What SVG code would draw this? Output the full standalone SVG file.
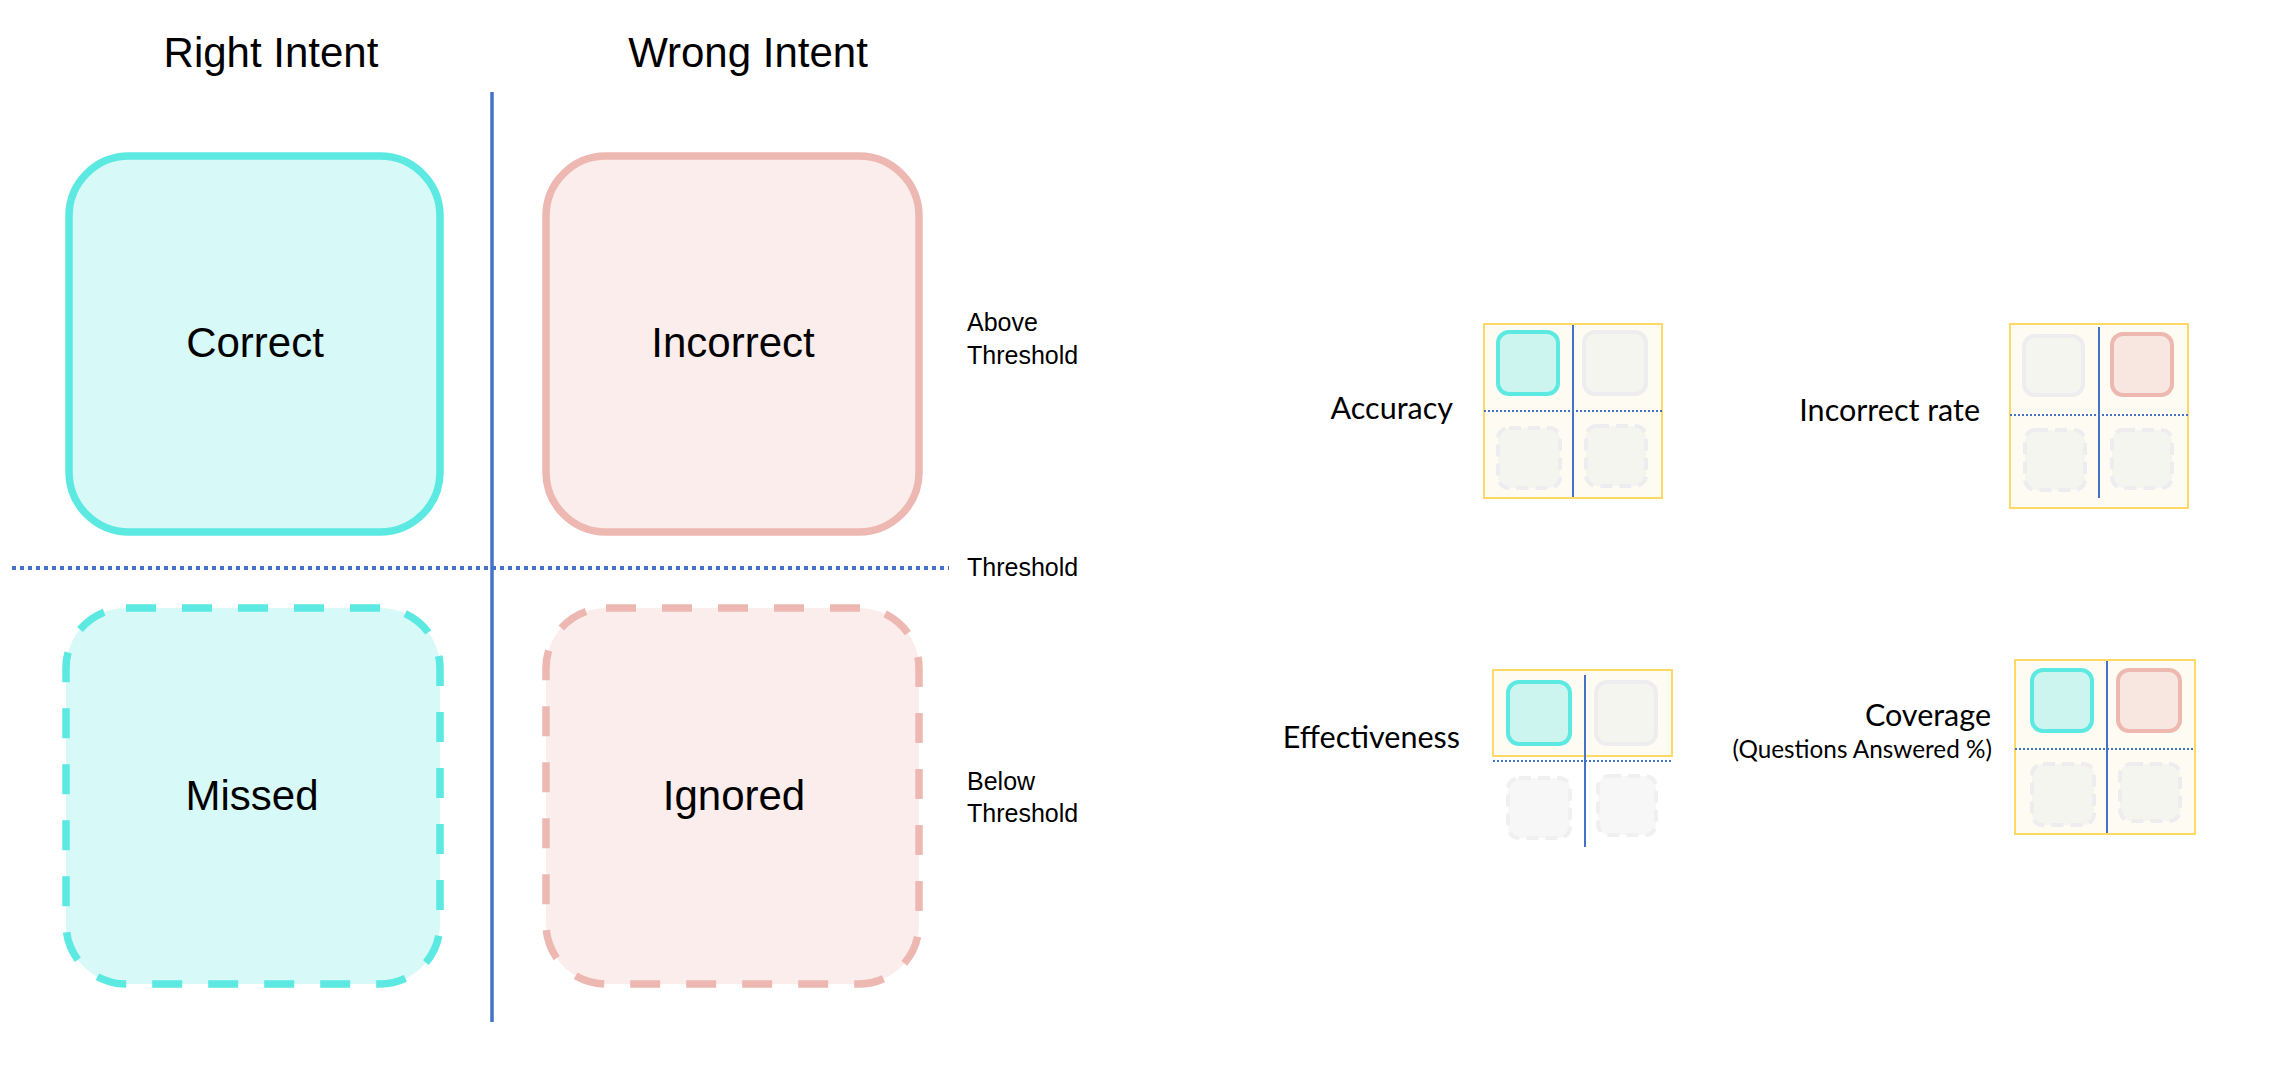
<svg xmlns="http://www.w3.org/2000/svg" width="2272" height="1082" viewBox="0 0 2272 1082">
<style>
.bg{fill:#ffffff}
.hdr{font-family:"Liberation Sans",Arial,sans-serif;font-size:42px;fill:#000;text-anchor:middle}
.lbl{font-family:"Liberation Sans",Arial,sans-serif;font-size:42px;fill:#000;text-anchor:middle}
.side{font-family:"Liberation Sans",Arial,sans-serif;font-size:25px;fill:#000}
.ml{font-family:Lato,"Open Sans",sans-serif;font-size:30.5px;fill:#000;text-anchor:end}
.ms{font-family:Lato,"Open Sans",sans-serif;font-size:24.3px;fill:#000;text-anchor:end}
.cy{fill:#D7F9F7;stroke:#5BE9E2;stroke-width:7.5}
.pk{fill:#FBEDEC;stroke:#EEB8B2;stroke-width:7.5}
.dash{stroke-dasharray:30 26}
.vline{stroke:#4472C4;stroke-width:3.5}
.thr{stroke:#4472C4;stroke-width:4;stroke-dasharray:4 4}
.frame{fill:#FEFBF3;stroke:#FFD966;stroke-width:2}
.mv{stroke:#4472C4;stroke-width:2}
.md{stroke:#4472C4;stroke-width:2;stroke-dasharray:2 2}
.mcy{fill:#CCF5EF;stroke:#5BE9E2;stroke-width:4}
.mpk{fill:#F8E6E0;stroke:#EDB8B0;stroke-width:4}
.mg{fill:#F5F5F0;stroke:#EDEDF0;stroke-width:4}
.mgd{fill:#F5F5F0;stroke:#EDEDF0;stroke-width:4;stroke-dasharray:12 7}
.mgw{fill:#F7F7F7;stroke:#F0F0F0;stroke-width:4;stroke-dasharray:12 7}
</style>
<rect class="bg" x="0" y="0" width="2272" height="1082"/>

<g id="headers">
<text class="hdr" x="271" y="67">Right Intent</text>
<text class="hdr" x="748" y="67">Wrong Intent</text>
</g>

<g id="connectors">
<line class="vline" x1="492" y1="92" x2="492" y2="1022"/>
<line class="thr" x1="12" y1="568" x2="949" y2="568"/>
</g>

<g id="node-correct">
<rect class="cy" x="69" y="156" width="371" height="376" rx="60" ry="60"/>
<text class="lbl" x="255" y="357">Correct</text>
</g>
<g id="node-incorrect">
<rect class="pk" x="546" y="156" width="373" height="376" rx="60" ry="60"/>
<text class="lbl" x="733" y="357">Incorrect</text>
</g>
<g id="node-missed">
<rect class="cy dash" x="66" y="608" width="374" height="376" rx="60" ry="60"/>
<text class="lbl" x="252" y="810">Missed</text>
</g>
<g id="node-ignored">
<rect class="pk dash" x="546" y="608" width="373" height="376" rx="60" ry="60"/>
<text class="lbl" x="734" y="810">Ignored</text>
</g>

<g id="side-labels">
<text class="side" x="967" y="331">Above</text>
<text class="side" x="967" y="364">Threshold</text>
<text class="side" x="967" y="576">Threshold</text>
<text class="side" x="967" y="790">Below</text>
<text class="side" x="967" y="822">Threshold</text>
</g>

<g id="mini-accuracy">
<text class="ml" x="1453" y="419">Accuracy</text>
<rect class="frame" x="1484" y="324" width="178" height="174"/>
<rect class="mcy" x="1498" y="332" width="60" height="62" rx="11"/>
<rect class="mg" x="1584" y="332" width="62" height="62" rx="11"/>
<rect class="mgd" x="1498" y="428" width="62" height="60" rx="11"/>
<rect class="mgd" x="1586" y="426" width="60" height="60" rx="11"/>
<line class="mv" x1="1573" y1="325" x2="1573" y2="497"/>
<line class="md" x1="1484" y1="411" x2="1662" y2="411"/>
</g>

<g id="mini-incorrect-rate">
<text class="ml" x="1980" y="421">Incorrect rate</text>
<rect class="frame" x="2010" y="324" width="178" height="184"/>
<rect class="mg" x="2024" y="336" width="59" height="59" rx="11"/>
<rect class="mpk" x="2112" y="334" width="60" height="61" rx="11"/>
<rect class="mgd" x="2025" y="430" width="60" height="60" rx="11"/>
<rect class="mgd" x="2112" y="430" width="60" height="58" rx="11"/>
<line class="mv" x1="2099" y1="327" x2="2099" y2="498"/>
<line class="md" x1="2010" y1="415" x2="2188" y2="415"/>
</g>

<g id="mini-effectiveness">
<text class="ml" x="1460" y="748">Effectiveness</text>
<rect class="frame" x="1493" y="670" width="179" height="86"/>
<rect class="mcy" x="1508" y="682" width="62" height="62" rx="11"/>
<rect class="mg" x="1596" y="682" width="60" height="62" rx="11"/>
<rect class="mgw" x="1508" y="778" width="62" height="60" rx="11"/>
<rect class="mgw" x="1598" y="776" width="58" height="59" rx="11"/>
<line class="mv" x1="1585" y1="675" x2="1585" y2="847"/>
<line class="md" x1="1493" y1="761" x2="1673" y2="761"/>
</g>

<g id="mini-coverage">
<text class="ml" x="1991" y="726">Coverage</text>
<text class="ms" x="1992" y="758">(Questions Answered %)</text>
<rect class="frame" x="2015" y="660" width="180" height="174"/>
<rect class="mcy" x="2032" y="670" width="60" height="61" rx="11"/>
<rect class="mpk" x="2118" y="670" width="62" height="61" rx="11"/>
<rect class="mgd" x="2032" y="764" width="62" height="61" rx="11"/>
<rect class="mgd" x="2120" y="764" width="60" height="57" rx="11"/>
<line class="mv" x1="2107" y1="661" x2="2107" y2="833"/>
<line class="md" x1="2015" y1="749" x2="2195" y2="749"/>
</g>
</svg>
